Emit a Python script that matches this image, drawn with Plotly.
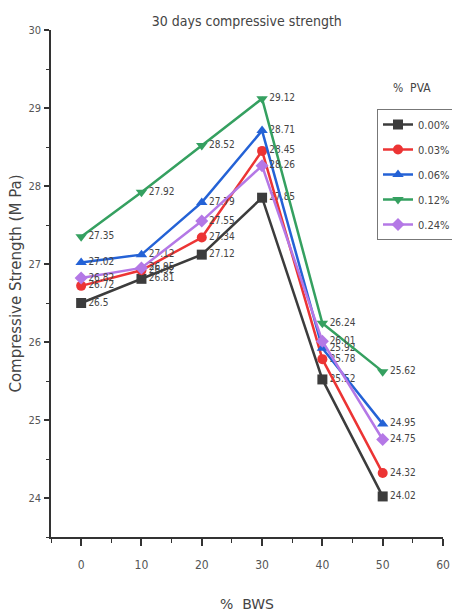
import plotly.graph_objects as go

bws = [0, 10, 20, 30, 40, 50]
series_names = ["0.00%", "0.03%", "0.06%", "0.12%", "0.24%"]
pva_000 = [26.50, 26.81, 27.12, 27.85, 25.52, 24.02]
pva_003 = [26.72, 26.92, 27.34, 28.45, 25.78, 24.32]
pva_006 = [27.02, 27.12, 27.79, 28.71, 25.92, 24.95]
pva_012 = [27.35, 27.92, 28.52, 29.12, 26.24, 25.62]
pva_024 = [26.82, 26.95, 27.55, 28.26, 26.01, 24.75]
x_ticks = [0, 10, 20, 30, 40, 50, 60]
y_ticks = [24, 25, 26, 27, 28, 29, 30]

values = [pva_000, pva_003, pva_006, pva_012, pva_024]
colors = ["#3c3c3c", "#ec3434", "#2462d6", "#35a060", "#b478e6"]
symbols = ["square", "circle", "triangle-up", "triangle-down", "diamond"]

NARROW = "DejaVu Sans Condensed, Liberation Sans Narrow, sans-serif"

fig = go.Figure()
for name, vals, c, s in zip(series_names, values, colors, symbols):
    fig.add_trace(go.Scatter(
        x=bws, y=vals, name=name, mode="lines+markers+text",
        legendgroup=name,
        line=dict(color=c, width=2.5),
        marker=dict(symbol=s, size=10, color=c),
        text=[f"{v:g}" for v in vals],
        textposition="middle right",
        textfont=dict(family=NARROW, size=10, color="#444444"),
    ))

fig.update_layout(
    width=452, height=614,
    margin=dict(l=51, r=9, t=30, b=77, autoexpand=False),
    plot_bgcolor="white", paper_bgcolor="white",
    title=dict(text="30 days compressive strength", x=0.546, xanchor="center",
               y=1 - 21 / 614, yanchor="middle",
               font=dict(family=NARROW, size=14, color="#444444")),
    showlegend=True,
    legend=dict(x=(377 - 51) / 392, y=(537 - 109) / 507, xanchor="left", yanchor="top",
                bordercolor="#777777", borderwidth=1, bgcolor="white",
                font=dict(family=NARROW, size=11, color="#444444"),
                itemwidth=30, tracegroupgap=6),
    annotations=[dict(text="%  PVA", x=(412 - 51) / 392, y=(537 - 88) / 507,
                      xref="paper", yref="paper", xanchor="center", yanchor="middle",
                      showarrow=False,
                      font=dict(family=NARROW, size=12, color="#444444"))],
)

fig.update_xaxes(
    range=[-5, 60], tickvals=x_ticks, showgrid=False, zeroline=False, automargin=False,
    showline=True, linecolor="#333333", linewidth=1.5,
    ticks="outside", ticklen=7, tickwidth=1.5, tickcolor="#333333",
    minor=dict(dtick=5, tick0=0, ticks="outside", ticklen=4, tickwidth=1.2, tickcolor="#333333"),
    ticklabelstandoff=9,
    tickfont=dict(family=NARROW, size=12, color="#555555"),
    title=dict(text="%  BWS", standoff=28,
               font=dict(family="DejaVu Sans", size=14, color="#444444")),
)
fig.update_yaxes(
    range=[23.5, 30], tickvals=y_ticks, showgrid=False, zeroline=False, automargin=False,
    showline=True, linecolor="#333333", linewidth=1.5,
    ticks="outside", ticklen=5, tickwidth=1.5, tickcolor="#333333",
    minor=dict(dtick=0.5, tick0=24, ticks="outside", ticklen=3, tickwidth=1.2, tickcolor="#333333"),
    ticklabelstandoff=1,
    tickfont=dict(family=NARROW, size=11, color="#555555"),
    title=dict(text="Compressive Strength (M Pa)", standoff=3,
               font=dict(family="DejaVu Sans", size=15, color="#444444")),
)

fig.write_html("out.html", config={"displayModeBar": False},
               post_script="document.body.style.margin='0';")
